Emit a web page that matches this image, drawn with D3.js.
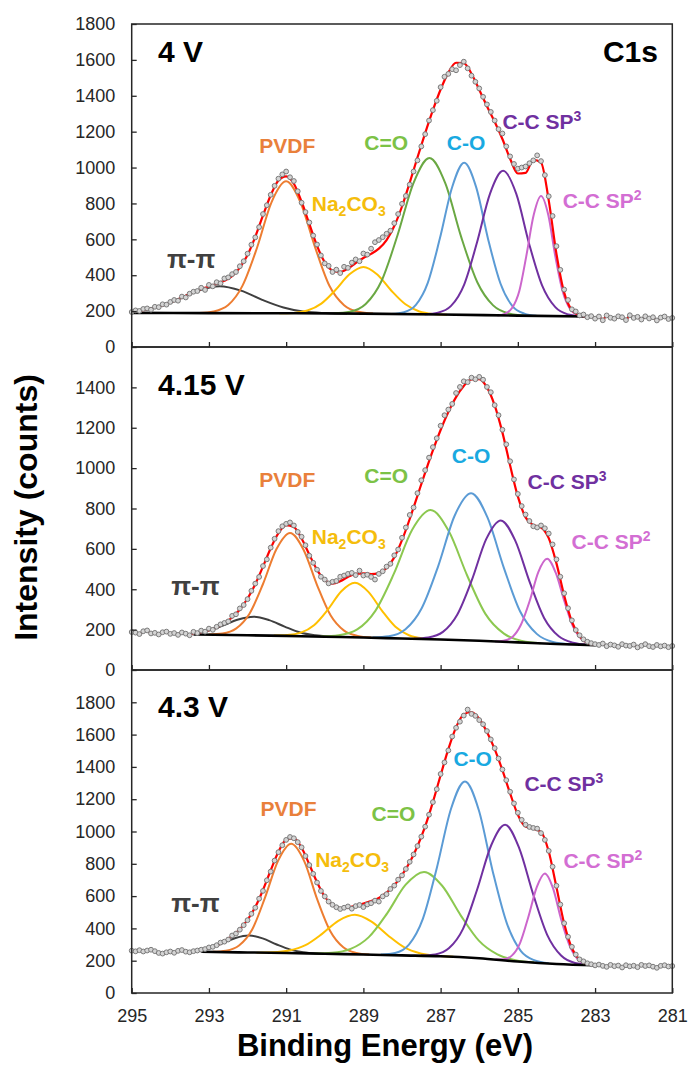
<!DOCTYPE html>
<html lang="en">
<head>
<meta charset="UTF-8">
<title>C1s XPS spectra</title>
<script src="https://d3js.org/d3.v7.min.js"></script>
<style>
html, body { margin: 0; padding: 0; background: #fff; }
svg { display: block; font-family: "Liberation Sans", Arial, sans-serif; }
.tick-label { font-size: 18px; fill: #262626; }
.peak-label { font-size: 21px; font-weight: bold; }
.tag { font-size: 30px; font-weight: bold; fill: #000; }
.axis-title { font-size: 31px; font-weight: bold; fill: #000; }
</style>
</head>
<body>
<div id="chart"></div>
<script>
// ---------------- data ----------------
const peakNames = ['π-π', 'PVDF', 'Na2CO3', 'C=O', 'C-O', 'C-C SP3', 'C-C SP2'];
const panelTags = ['4 V', '4.15 V', '4.3 V'];
const yMaxes = [1800, 1600, 2000];
const yTicksA = [0, 200, 400, 600, 800, 1000, 1200, 1400, 1600, 1800];
const yTicksB = [0, 200, 400, 600, 800, 1000, 1200, 1400];
const yTicksC = [0, 200, 400, 600, 800, 1000, 1200, 1400, 1600, 1800];
const xTicks = [295, 293, 291, 289, 287, 285, 283, 281];

// measured points, binding energy (eV)
const scanEnergy = [
  295, 294.9, 294.8, 294.7, 294.6, 294.5, 294.4, 294.3, 294.2, 294.1,
  294, 293.9, 293.8, 293.7, 293.6, 293.5, 293.4, 293.3, 293.2, 293.1,
  293, 292.9, 292.8, 292.7, 292.6, 292.5, 292.4, 292.3, 292.2, 292.1,
  292, 291.9, 291.8, 291.7, 291.6, 291.5, 291.4, 291.3, 291.2, 291.1,
  291, 290.9, 290.8, 290.7, 290.6, 290.5, 290.4, 290.3, 290.2, 290.1,
  290, 289.9, 289.8, 289.7, 289.6, 289.5, 289.4, 289.3, 289.2, 289.1,
  289, 288.9, 288.8, 288.7, 288.6, 288.5, 288.4, 288.3, 288.2, 288.1,
  288, 287.9, 287.8, 287.7, 287.6, 287.5, 287.4, 287.3, 287.2, 287.1,
  287, 286.9, 286.8, 286.7, 286.6, 286.5, 286.4, 286.3, 286.2, 286.1,
  286, 285.9, 285.8, 285.7, 285.6, 285.5, 285.4, 285.3, 285.2, 285.1,
  285, 284.9, 284.8, 284.7, 284.6, 284.5, 284.4, 284.3, 284.2, 284.1,
  284, 283.9, 283.8, 283.7, 283.6, 283.5, 283.4, 283.3, 283.2, 283.1,
  283, 282.9, 282.8, 282.7, 282.6, 282.5, 282.4, 282.3, 282.2, 282.1,
  282, 281.9, 281.8, 281.7, 281.6, 281.5, 281.4, 281.3, 281.2, 281.1,
  281
];

// measured counts
const dataA = [
  195, 204, 201, 212, 215, 208, 224, 222, 238, 236,
  251, 262, 258, 281, 276, 297, 308, 312, 330, 318,
  346, 338, 361, 355, 382, 388, 406, 418, 450, 478,
  520, 570, 611, 668, 741, 790, 848, 898, 938, 962,
  978, 946, 925, 868, 804, 752, 694, 621, 571, 510,
  466, 452, 418, 431, 412, 447, 441, 470, 488, 478,
  521, 515, 548, 584, 596, 612, 631, 648, 690, 741,
  798, 842, 905, 978, 1040, 1118, 1186, 1262, 1320, 1372,
  1448, 1506, 1522, 1548, 1542, 1571, 1590, 1553, 1512, 1478,
  1441, 1394, 1352, 1310, 1262, 1214, 1190, 1118, 1062, 1020,
  994, 1000, 1006, 1024, 1040, 1068, 1036, 958, 840, 730,
  562, 430, 320, 262, 210, 198, 176, 181, 166, 172,
  158, 170, 149, 176, 163, 158, 171, 166, 150, 177,
  162, 168, 153, 171, 159, 166, 148, 164, 170, 156,
  162
];
const dataB = [
  188, 185, 178, 192, 196, 181, 184, 176, 187, 190,
  179, 183, 174, 186, 180, 172, 189, 183, 195, 190,
  205, 199, 214, 226, 233, 241, 268, 276, 305, 322,
  351, 392, 428, 461, 515, 548, 606, 650, 688, 712,
  724, 731, 716, 684, 660, 618, 566, 531, 497, 462,
  448, 429, 437, 441, 462, 468, 476, 481, 470, 492,
  468, 472, 461, 448, 476, 489, 512, 526, 568, 597,
  655, 706, 768, 805, 876, 940, 990, 1052, 1104, 1148,
  1210, 1262, 1290, 1318, 1372, 1402, 1430, 1426, 1448, 1440,
  1452, 1438, 1402, 1376, 1312, 1262, 1190, 1118, 1034, 944,
  872, 812, 770, 738, 712, 706, 716, 702, 676, 622,
  548, 462, 380, 306, 246, 198, 172, 152, 140, 133,
  128, 124, 131, 118, 126, 122, 115, 128, 121, 119,
  126, 112, 120, 128, 118, 114, 124, 117, 121, 113,
  119
];
const dataC = [
  262, 258, 265, 257, 263, 268, 259, 248, 244, 252,
  257, 249, 261, 266, 256, 252, 259, 263, 268, 272,
  282, 286, 296, 312, 318, 331, 356, 368, 392, 420,
  451, 490, 528, 584, 632, 698, 752, 820, 872, 915,
  948, 966, 958, 934, 902, 848, 792, 738, 684, 632,
  598, 566, 546, 531, 520, 528, 536, 522, 538, 545,
  532, 548, 556, 572, 566, 598, 612, 644, 665, 702,
  728, 768, 812, 858, 910, 968, 1030, 1104, 1182, 1262,
  1356, 1428, 1502, 1588, 1642, 1680, 1718, 1755, 1728, 1716,
  1690, 1664, 1622, 1570, 1516, 1452, 1384, 1318, 1246, 1174,
  1116, 1072, 1042, 1028, 1022, 1018, 990, 948, 880, 782,
  664, 548, 432, 348, 286, 238, 208, 196, 184, 178,
  171, 176, 168, 162, 174, 166, 170, 158, 172, 165,
  169, 160, 174, 167, 171, 163, 156, 168, 172, 164,
  167
];

// fitted envelope, binding energy (eV)
const fitGrid = [
  295, 294.8, 294.6, 294.4, 294.2, 294, 293.8, 293.6, 293.4, 293.2,
  293, 292.8, 292.6, 292.4, 292.2, 292, 291.8, 291.6, 291.4, 291.2,
  291, 290.8, 290.6, 290.4, 290.2, 290, 289.8, 289.6, 289.4, 289.2,
  289, 288.8, 288.6, 288.4, 288.2, 288, 287.8, 287.6, 287.4, 287.2,
  287, 286.8, 286.6, 286.4, 286.2, 286, 285.8, 285.6, 285.4, 285.2,
  285, 284.8, 284.6, 284.4, 284.2, 284, 283.8, 283.6, 283.4, 283.2,
  283
];
const envA = [
  198, 203, 210, 220, 232, 248, 266, 285, 305, 323,
  337, 352, 369, 395, 442, 513, 614, 733, 846, 928,
  951, 910, 810, 686, 564, 472, 427, 418, 437, 468,
  496, 519, 548, 596, 674, 783, 916, 1056, 1192, 1320,
  1435, 1529, 1584, 1582, 1523, 1434, 1342, 1255, 1159, 1049,
  967, 970, 1043, 1028, 817, 519, 303, 205, 177, 170,
  null
];
const envB = [
  null, null, null, null, null, null, null, null, 183, 187,
  197, 211, 232, 260, 300, 354, 425, 512, 603, 678,
  718, 708, 651, 572, 496, 445, 428, 440, 461, 476,
  479, 475, 480, 505, 558, 643, 748, 863, 978, 1088,
  1189, 1278, 1352, 1407, 1440, 1441, 1400, 1311, 1177, 1013,
  860, 756, 718, 706, 653, 528, 369, 239, 167, 135,
  125
];
const envC = [
  null, null, null, null, null, null, null, null, null, 267,
  279, 295, 320, 352, 395, 453, 532, 638, 760, 875,
  948, 957, 899, 796, 686, 596, 544, 526, 529, 541,
  554, 569, 588, 621, 667, 730, 809, 909, 1032, 1182,
  1348, 1510, 1645, 1725, 1740, 1698, 1616, 1510, 1380, 1236,
  1104, 1030, 1017, 997, 876, 655, 430, 277, 205, 180,
  173
];

// background under the fit, [eV, counts]
const bgA = [[295, 190], [293, 189], [291, 188], [289, 186], [287, 181], [285, 175], [283.2, 170]];
const bgB = [[293.4, 176], [292, 172], [291, 169], [290, 165], [289, 161], [288, 156], [287, 151], [286, 145], [285, 137], [284, 129], [283, 123]];
const bgC = [[293.2, 255], [292, 251], [291, 248], [290, 243], [289, 238], [288, 233], [287, 228], [286, 215], [285, 195], [284, 180], [283, 172]];

// fitted components, [eV, counts], same order as peakNames
const compsA = [
  [[295, 198], [294.37, 221], [293.82, 264], [293.27, 315], [292.72, 339], [292.17, 314], [291.62, 263], [291.07, 220], [290.52, 196], [289.97, 189], [289.42, 186]],
  [[293.25, 189], [292.88, 198], [292.5, 234], [292.13, 342], [291.75, 556], [291.38, 806], [291, 923], [290.63, 806], [290.25, 555], [289.88, 341], [289.5, 233], [289.13, 196], [288.75, 186]],
  [[291.18, 188], [290.81, 190], [290.45, 203], [290.09, 242], [289.73, 316], [289.36, 405], [289, 446], [288.64, 404], [288.28, 315], [287.91, 238], [287.55, 198], [287.19, 184], [286.83, 180]],
  [[289.77, 188], [289.35, 197], [288.94, 240], [288.53, 368], [288.12, 620], [287.7, 915], [287.29, 1053], [286.88, 913], [286.47, 615], [286.05, 361], [285.64, 232], [285.23, 187], [284.82, 175]],
  [[288.27, 184], [287.95, 194], [287.64, 235], [287.33, 359], [287.02, 604], [286.7, 892], [286.39, 1027], [286.08, 891], [285.77, 601], [285.45, 354], [285.14, 228], [284.83, 186], [284.52, 174]],
  [[287.41, 182], [287.07, 191], [286.73, 229], [286.39, 348], [286.06, 581], [285.72, 855], [285.38, 982], [285.04, 853], [284.71, 577], [284.37, 342], [284.03, 222], [283.69, 181], [283.36, 170]],
  [[285.53, 176], [285.34, 185], [285.15, 217], [284.96, 314], [284.78, 508], [284.59, 735], [284.4, 841], [284.21, 734], [284.03, 506], [283.84, 311], [283.65, 213], [283.46, 179], [283.28, 170]]
];
const compsB = [
  [[293.4, 183], [293.04, 194], [292.64, 220], [292.24, 250], [291.84, 264], [291.44, 247], [291.04, 215], [290.64, 186], [290.24, 172], [289.84, 165], [289.44, 163]],
  [[293, 176], [292.65, 181], [292.3, 205], [291.95, 279], [291.6, 426], [291.25, 599], [290.9, 679], [290.55, 596], [290.2, 421], [289.85, 271], [289.5, 195], [289.15, 169], [288.8, 161]],
  [[291.32, 171], [290.97, 173], [290.62, 185], [290.27, 223], [289.92, 299], [289.57, 390], [289.22, 432], [288.87, 387], [288.52, 294], [288.17, 214], [287.82, 172], [287.47, 157], [287.12, 153]],
  [[290.11, 166], [289.64, 172], [289.16, 201], [288.69, 293], [288.21, 477], [287.74, 693], [287.26, 792], [286.79, 688], [286.31, 467], [285.84, 278], [285.36, 180], [284.89, 144], [284.41, 133]],
  [[288.76, 161], [288.34, 167], [287.91, 202], [287.49, 306], [287.06, 516], [286.64, 763], [286.21, 876], [285.79, 757], [285.36, 505], [284.94, 290], [284.51, 179], [284.09, 139], [283.66, 128]],
  [[287.69, 155], [287.32, 161], [286.94, 189], [286.57, 274], [286.19, 446], [285.82, 648], [285.44, 741], [285.07, 642], [284.69, 434], [284.32, 258], [283.94, 167], [283.57, 135], [283.19, 125]],
  [[285.59, 141], [285.37, 145], [285.14, 164], [284.92, 224], [284.69, 344], [284.47, 485], [284.24, 551], [284.02, 482], [283.79, 338], [283.57, 215], [283.34, 151], [283.12, 129], [283, 124]]
];
const compsC = [
  [[293.2, 267], [293.01, 277], [292.66, 307], [292.31, 341], [291.96, 356], [291.61, 338], [291.26, 302], [290.91, 270], [290.56, 253], [290.21, 245], [289.86, 242]],
  [[292.9, 255], [292.56, 262], [292.22, 294], [291.88, 393], [291.55, 589], [291.21, 818], [290.87, 924], [290.53, 815], [290.2, 583], [289.86, 384], [289.52, 283], [289.18, 248], [288.85, 238]],
  [[291.77, 250], [291.35, 252], [290.92, 263], [290.5, 296], [290.07, 366], [289.65, 447], [289.22, 484], [288.8, 443], [288.37, 358], [287.95, 284], [287.52, 245], [287.1, 231], [286.67, 224]],
  [[290.28, 245], [289.81, 249], [289.33, 273], [288.86, 346], [288.38, 495], [287.91, 669], [287.43, 750], [286.96, 664], [286.48, 481], [286.01, 324], [285.53, 239], [285.06, 203], [284.58, 190]],
  [[288.55, 238], [288.18, 248], [287.82, 300], [287.46, 459], [287.1, 773], [286.73, 1141], [286.37, 1310], [286.01, 1132], [285.65, 753], [285.28, 428], [284.92, 259], [284.56, 202], [284.2, 185]],
  [[287.51, 232], [287.14, 239], [286.78, 278], [286.42, 397], [286.06, 636], [285.69, 915], [285.33, 1042], [284.97, 900], [284.6, 609], [284.24, 360], [283.88, 232], [283.52, 186], [283.15, 174]],
  [[285.58, 208], [285.36, 209], [285.15, 233], [284.94, 311], [284.73, 469], [284.51, 655], [284.3, 740], [284.09, 649], [283.88, 457], [283.66, 294], [283.45, 210], [283.24, 180], [283.03, 173]]
];

// ---------------- layout & style ----------------
const W = 688, H = 1070;
const plotLeft = 131.7, plotRight = 672.3;
const panelTop = [24, 347, 670];
const panelH = 323;

const lineColors = ['#3f3f3f', '#ed7d31', '#ffc000', '#70ad47', '#5b9bd5', '#7030a0', '#cc66cc'];
const greenLine = ['#6aa843', '#8cc850', '#8cc850'];
const labelColors = ['#404040', '#e9803b', '#f5bd0c', '#7cc246', '#19a9e1', '#7030a0', '#d36ed3'];
const labelAnchor = ['middle', 'middle', 'middle', 'middle', 'middle', 'start', 'start'];
const labelPosA = [[293.46, 438], [290.97, 1079], [289.38, 757], [288.41, 1098], [286.34, 1098], [285.4, 1214], [283.84, 774]];
const labelPosB = [[293.35, 370], [290.97, 907], [289.38, 626], [288.41, 927], [286.21, 1023], [284.75, 899], [283.61, 601]];
const labelPosC = [[293.35, 502], [290.94, 1093], [289.29, 782], [288.22, 1062], [286.17, 1408], [284.83, 1248], [283.82, 772]];

const panels = [
  { tag: panelTags[0], yMax: yMaxes[0], ticks: yTicksA, data: dataA, env: envA, bg: bgA, comps: compsA, labels: labelPosA, tagY: 62 },
  { tag: panelTags[1], yMax: yMaxes[1], ticks: yTicksB, data: dataB, env: envB, bg: bgB, comps: compsB, labels: labelPosB, tagY: 395 },
  { tag: panelTags[2], yMax: yMaxes[2], ticks: yTicksC, data: dataC, env: envC, bg: bgC, comps: compsC, labels: labelPosC, tagY: 717 }
];

const svg = d3.select('#chart').append('svg').attr('width', W).attr('height', H);
const x = d3.scaleLinear().domain([295, 281]).range([plotLeft, plotRight]);

// envelope inside the fit window, raw points joined outside it
function redPoints(env, data) {
  const fit = fitGrid.map((e, i) => [e, env[i]]).filter(d => d[1] != null);
  const hi = fit[0][0], lo = fit[fit.length - 1][0];
  const scan = scanEnergy.map((e, i) => [e, data[i]]);
  return scan.filter(d => d[0] > hi + 1e-6).concat(fit, scan.filter(d => d[0] < lo - 1e-6));
}

function addLabel(g, text, px, py, color, anchor) {
  const t = g.append('text').attr('class', 'peak-label').attr('x', px).attr('y', py)
    .attr('text-anchor', anchor).style('fill', color);
  if (text === 'Na2CO3') {
    t.append('tspan').text('Na');
    t.append('tspan').attr('dy', 5).style('font-size', '14px').text('2');
    t.append('tspan').attr('dy', -5).text('CO');
    t.append('tspan').attr('dy', 5).style('font-size', '14px').text('3');
  } else if (text.startsWith('C-C SP')) {
    t.append('tspan').text('C-C SP');
    t.append('tspan').attr('dy', -8).style('font-size', '14px').text(text.slice(-1));
  } else {
    t.text(text);
    if (text === 'π-π') t.style('font-size', '26px');
  }
}

panels.forEach((p, k) => {
  const top = panelTop[k], bottom = top + panelH;
  const y = d3.scaleLinear().domain([0, p.yMax]).range([bottom, top]);
  const g = svg.append('g');
  const line = d3.line().x(d => x(d[0])).y(d => y(d[1])).curve(d3.curveMonotoneX);

  p.comps.forEach((pts, i) => {
    g.append('path').attr('d', line(pts)).attr('fill', 'none')
      .attr('stroke', i === 3 ? greenLine[k] : lineColors[i]).attr('stroke-width', 2);
  });

  g.append('path').attr('d', line(p.bg)).attr('fill', 'none')
    .attr('stroke', '#000').attr('stroke-width', 2.6);

  g.append('path').attr('d', line(redPoints(p.env, p.data))).attr('fill', 'none')
    .attr('stroke', '#ff0000').attr('stroke-width', 2.2);

  g.selectAll('circle').data(scanEnergy.map((e, i) => [e, p.data[i]])).join('circle')
    .attr('cx', d => x(d[0])).attr('cy', d => y(d[1])).attr('r', 2.4)
    .attr('fill', '#d4d4d4').attr('stroke', '#7a7a7a').attr('stroke-width', 1);

  // frame
  g.append('rect').attr('x', plotLeft).attr('y', top).attr('width', plotRight - plotLeft).attr('height', panelH)
    .attr('fill', 'none').attr('stroke', '#262626').attr('stroke-width', 1.5);

  const ya = g.append('g').attr('transform', `translate(${plotLeft},0)`).attr('color', '#262626')
    .call(d3.axisLeft(y).tickValues(p.ticks).tickFormat(d3.format('d'))
      .tickSizeInner(-5).tickSizeOuter(0).tickPadding(16.5));
  ya.select('.domain').remove();
  ya.selectAll('line').attr('stroke-width', 1.3);
  ya.selectAll('text').attr('class', 'tick-label');

  const xa = g.append('g').attr('transform', `translate(0,${bottom})`).attr('color', '#262626')
    .call(d3.axisBottom(x).tickValues(xTicks).tickSizeInner(-5).tickSizeOuter(0).tickPadding(16.7)
      .tickFormat(k === 2 ? d3.format('d') : () => ''));
  xa.select('.domain').remove();
  xa.selectAll('line').attr('stroke-width', 1.3);
  xa.selectAll('text').attr('class', 'tick-label');

  p.labels.forEach((pos, i) => addLabel(g, peakNames[i], x(pos[0]), y(pos[1]), labelColors[i], labelAnchor[i]));

  g.append('text').attr('class', 'tag').attr('x', 158).attr('y', p.tagY).text(p.tag);
  if (k === 0) {
    g.append('text').attr('class', 'tag').attr('x', 658).attr('y', p.tagY).attr('text-anchor', 'end').text('C1s');
  }
});

svg.append('text').attr('class', 'axis-title').attr('text-anchor', 'middle')
  .attr('transform', 'translate(37,507.5) rotate(-90)').style('font-size', '32px').text('Intensity (counts)');
svg.append('text').attr('class', 'axis-title').attr('text-anchor', 'middle')
  .attr('x', 385).attr('y', 1056).text('Binding Energy (eV)');
</script>
</body>
</html>
